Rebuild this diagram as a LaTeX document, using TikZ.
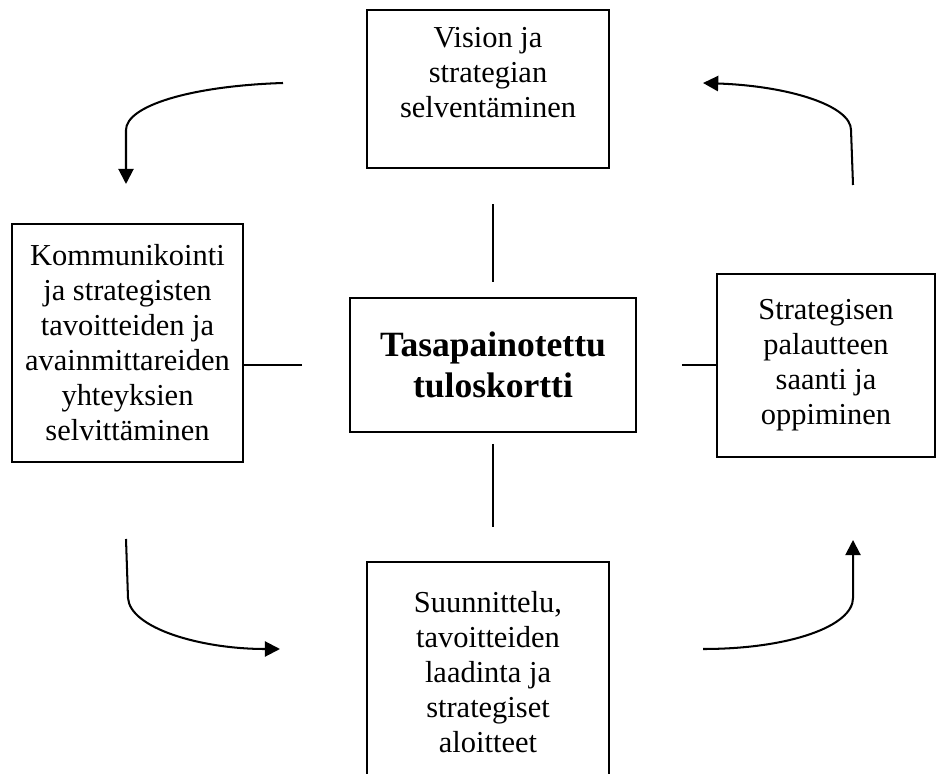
\documentclass[tikz,border=0pt]{standalone}
\usepackage{fontspec}
\setmainfont{Liberation Serif}
\usetikzlibrary{arrows.meta,positioning,calc}

\begin{document}
\begin{tikzpicture}[x=0.394pt, y=-0.394pt, box/.style={
% The shape:
rectangle,
% The text:
align=center, inner sep=0pt, font=\fontsize{12}{13.8}\selectfont,
% The border:
draw=black, line width=0.8pt
}, link/.style={line width=0.8pt}, turn/.style={line width=0.8pt, -{Triangle[length=6pt,width=6pt]}}]

	\useasboundingbox (0,0) rectangle (948,774);
	\clip (0,0) rectangle (948,774);

	\node (tulos) [box, minimum width=112.7pt, minimum height=52.8pt, font=\fontsize{14}{16}\selectfont\bfseries] at (493,365) {Tasapainotettu\\tuloskortti};
	\node (vision) [box, minimum width=95.3pt, minimum height=62.3pt, text depth=13pt] at (488,89) {Vision ja\\strategian\\selventäminen};
	\node (komm) [box, minimum width=91pt, minimum height=93.8pt] at (127.5,343) {Kommunikointi\\ja strategisten\\tavoitteiden ja\\avainmittareiden\\yhteyksien\\selvittäminen};
	\node (palaute) [box, minimum width=85.9pt, minimum height=72.1pt] at (826,365.5) {Strategisen\\palautteen\\saanti ja\\oppiminen};
	\node (suunn) [box, minimum width=95.3pt, minimum height=86.7pt] at (488,672) {Suunnittelu,\\tavoitteiden\\laadinta ja\\strategiset\\aloitteet};

	% short lines round the card
	\draw[link, shorten <=6pt, shorten >=13.8pt] (tulos.north) -- (tulos.north |- vision.south);
	\draw[link, shorten <=4.3pt, shorten >=13.4pt] (tulos.south) -- (tulos.south |- suunn.north);
	\draw[link, shorten <=18.5pt] (tulos.west) -- (tulos.west -| komm.east);
	\draw[link, shorten <=17.7pt] (tulos.east) -- (tulos.east -| palaute.west);

	% the cycle
	\coordinate (c1) at (283,83);
	\coordinate (c2) at (126,184);
	\coordinate (c3) at (126,539);
	\coordinate (c4) at (280,649);
	\coordinate (c5) at (703,649);
	\coordinate (c6) at (853,540);
	\coordinate (c7) at (853,185);
	\coordinate (c8) at (703,83);

	\draw[turn] (c1) .. controls (190,86) and (126,106) .. (126,130) -- (c2);
	\draw[turn] (c3) -- (128,598) .. controls (130,628) and (200,649) .. (c4);
	\draw[turn] (c5) .. controls (790,649) and (853,626) .. (853,598) -- (c6);
	\draw[turn] (c7) -- (851,130) .. controls (851,106) and (790,86) .. (c8);
\end{tikzpicture}
\end{document}
